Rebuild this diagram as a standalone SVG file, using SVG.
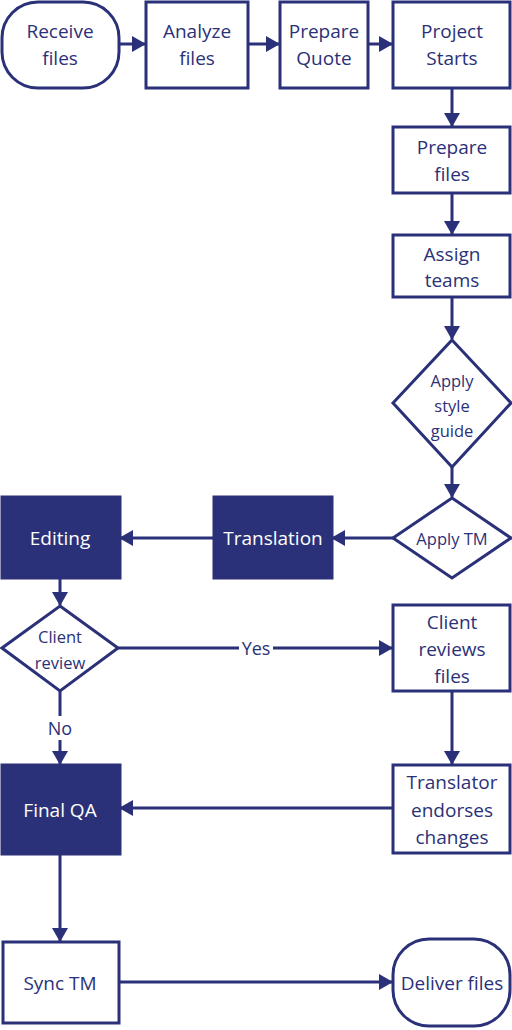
<svg xmlns="http://www.w3.org/2000/svg" width="512" height="1030" viewBox="0 0 512 1030">
<style>
.s{fill:#fff;stroke:#2B3178;stroke-width:3}
.f{fill:#2B3178;stroke:#2B3178;stroke-width:3}
.t{font-family:"Open Sans","Noto Sans",sans-serif;font-size:19px;fill:#2B3178;text-anchor:middle;dominant-baseline:central}
.tw{fill:#fff}
.sm{font-size:16.5px}
.c{fill:none;stroke:#2B3178;stroke-width:3}
.lb{font-family:"Open Sans","Noto Sans",sans-serif;font-size:18px;fill:#2B3178;text-anchor:middle;dominant-baseline:central}
</style>
<defs>
<marker id="a" markerUnits="userSpaceOnUse" markerWidth="14" markerHeight="16" refX="13" refY="8" orient="auto">
<path d="M0,0 L14,8 L0,16 z" fill="#2B3178"/>
</marker>
</defs>
<g id="connectors">
<line class="c" x1="120" y1="44" x2="145" y2="44" marker-end="url(#a)"/>
<line class="c" x1="248" y1="44" x2="279" y2="44" marker-end="url(#a)"/>
<line class="c" x1="368" y1="44" x2="392" y2="44" marker-end="url(#a)"/>
<line class="c" x1="452" y1="88" x2="452" y2="126" marker-end="url(#a)"/>
<line class="c" x1="452" y1="193" x2="452" y2="234" marker-end="url(#a)"/>
<line class="c" x1="452" y1="297" x2="452" y2="339" marker-end="url(#a)"/>
<line class="c" x1="452" y1="467" x2="452" y2="497" marker-end="url(#a)"/>
<line class="c" x1="393" y1="538" x2="332" y2="538" marker-end="url(#a)"/>
<line class="c" x1="213" y1="538" x2="120" y2="538" marker-end="url(#a)"/>
<line class="c" x1="60" y1="578" x2="60" y2="605" marker-end="url(#a)"/>
<line class="c" x1="118" y1="648" x2="392" y2="648" marker-end="url(#a)"/>
<line class="c" x1="60" y1="691" x2="60" y2="764" marker-end="url(#a)"/>
<line class="c" x1="452" y1="691" x2="452" y2="764" marker-end="url(#a)"/>
<line class="c" x1="392" y1="808" x2="120" y2="808" marker-end="url(#a)"/>
<line class="c" x1="60" y1="854" x2="60" y2="941" marker-end="url(#a)"/>
<line class="c" x1="119" y1="982" x2="392" y2="982" marker-end="url(#a)"/>
<rect x="239" y="637" width="34" height="22" fill="#fff"/>
<text class="lb" x="256" y="648">Yes</text>
<rect x="47" y="716" width="26" height="24" fill="#fff"/>
<text class="lb" x="60" y="728">No</text>
</g>
<g id="receive"><rect class="s" x="2" y="2" width="117" height="86" rx="36" ry="36"/><text class="t" x="60" y="31">Receive</text><text class="t" x="60" y="58">files</text></g>
<g id="analyze"><rect class="s" x="146" y="2" width="102" height="86"/><text class="t" x="197" y="31">Analyze</text><text class="t" x="197" y="58">files</text></g>
<g id="quote"><rect class="s" x="280" y="2" width="88" height="86"/><text class="t" x="324" y="31">Prepare</text><text class="t" x="324" y="58">Quote</text></g>
<g id="starts"><rect class="s" x="393" y="2" width="117" height="86"/><text class="t" x="452" y="31">Project</text><text class="t" x="452" y="58">Starts</text></g>
<g id="preparefiles"><rect class="s" x="393" y="127" width="117" height="66"/><text class="t" x="452" y="147">Prepare</text><text class="t" x="452" y="174">files</text></g>
<g id="assign"><rect class="s" x="393" y="235" width="117" height="62"/><text class="t" x="452" y="254">Assign</text><text class="t" x="452" y="280">teams</text></g>
<g id="styleguide"><polygon class="s" points="452,340 511,403 452,467 393,403"/><text class="t sm" x="452" y="380">Apply</text><text class="t sm" x="452" y="405">style</text><text class="t sm" x="452" y="430">guide</text></g>
<g id="applytm"><polygon class="s" points="452,498 511,538 452,578 393,538"/><text class="t sm" x="452" y="538">Apply TM</text></g>
<g id="translation"><rect class="f" x="214" y="497" width="118" height="81"/><text class="t tw" x="273" y="538">Translation</text></g>
<g id="editing"><rect class="f" x="2" y="497" width="118" height="81"/><text class="t tw" x="60" y="538">Editing</text></g>
<g id="clientreview"><polygon class="s" points="60,606 118,648 60,691 2,648"/><text class="t sm" x="60" y="636">Client</text><text class="t sm" x="60" y="662">review</text></g>
<g id="clientreviews"><rect class="s" x="393" y="605" width="117" height="86"/><text class="t" x="452" y="622">Client</text><text class="t" x="452" y="649">reviews</text><text class="t" x="452" y="676">files</text></g>
<g id="endorses"><rect class="s" x="393" y="765" width="117" height="88"/><text class="t" x="452" y="782">Translator</text><text class="t" x="452" y="810">endorses</text><text class="t" x="452" y="837">changes</text></g>
<g id="finalqa"><rect class="f" x="2" y="765" width="118" height="89"/><text class="t tw" x="60" y="810">Final QA</text></g>
<g id="synctm"><rect class="s" x="3" y="942" width="116" height="81"/><text class="t" x="60" y="983">Sync TM</text></g>
<g id="deliver"><rect class="s" x="393" y="939" width="117" height="87" rx="36" ry="36"/><text class="t" x="452" y="983">Deliver files</text></g>
</svg>
